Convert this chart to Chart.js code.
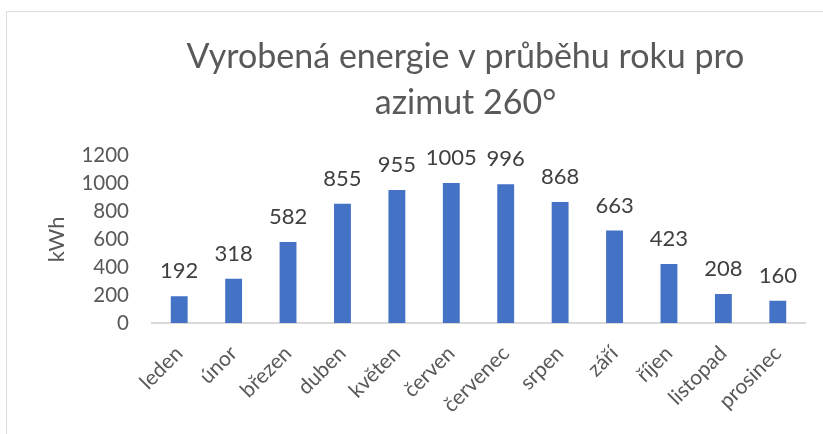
<!DOCTYPE html>
<html>
<head>
<meta charset="utf-8">
<script src="https://cdn.jsdelivr.net/npm/chart.js@4/dist/chart.umd.min.js"></script>
<style>
  html, body { margin: 0; padding: 0; background: #fff; overflow: hidden; }
  #wrap { position: relative; width: 823px; height: 434px; }
  #frame { position: absolute; left: 6px; top: 11px; width: 900px; height: 500px; border: 1.5px solid #dedede; }
  #energy { position: absolute; left: 0; top: 0; }
</style>
</head>
<body>
<div id="wrap">
  <div id="frame"></div>
  <canvas id="energy" width="823" height="434"></canvas>
</div>
<script>
  const months = ["leden", "únor", "březen", "duben", "květen", "červen",
    "červenec", "srpen", "září", "říjen", "listopad", "prosinec"];
  const energy = [192, 318, 582, 855, 955, 1005, 996, 868, 663, 423, 208, 160];
  const titleLines = ["Vyrobená energie v průběhu roku pro", "azimut 260°"];

  // popisky hodnot nad sloupci
  const valueLabels = {
    id: "valueLabels",
    afterDatasetsDraw(chart) {
      const ctx = chart.ctx;
      const meta = chart.getDatasetMeta(0);
      ctx.save();
      ctx.font = "22px Lato";
      ctx.fillStyle = "#404040";
      ctx.textAlign = "center";
      ctx.textBaseline = "alphabetic";
      meta.data.forEach(function (bar, i) {
        ctx.fillText(String(energy[i]), bar.x, bar.y - 18);
      });
      ctx.restore();
    },
  };

  // nadpis je v Excelu posunuty doprava, nad plochu grafu
  const shiftTitle = {
    id: "shiftTitle",
    afterLayout(chart) {
      const t = chart.titleBlock;
      t.left = chart.chartArea.left - 26;
      t.right = chart.chartArea.right;
    },
  };

  const ctx = document.getElementById("energy");

  new Chart(ctx, {
    type: "bar",
    data: {
      labels: months,
      datasets: [
        {
          label: "kWh",
          data: energy,
          backgroundColor: "#4472c4",
          borderWidth: 0,
          barPercentage: 0.31,
          categoryPercentage: 1,
        },
      ],
    },
    options: {
      responsive: false,
      animation: false,
      layout: {
        padding: { left: 30, right: 18, top: 0, bottom: 0 },
      },
      scales: {
        y: {
          min: 0,
          max: 1200,
          ticks: {
            stepSize: 200,
            autoSkip: false,
            color: "#595959",
            font: { family: "Lato", size: 20.5 },
            padding: 23,
            callback: function (value) {
              return String(value);
            },
          },
          grid: { display: false, drawTicks: false },
          border: { display: false },
          title: {
            display: true,
            text: "kWh",
            color: "#595959",
            font: { family: "Lato", size: 22 },
            padding: { top: 14, bottom: 0 },
          },
          afterFit(scale) {
            scale.width = 122;
          },
        },
        x: {
          ticks: {
            color: "#595959",
            font: { family: "Lato", size: 21 },
            minRotation: 45,
            maxRotation: 45,
            padding: 18,
          },
          grid: { display: false, drawTicks: false },
          border: { color: "#d9d9d9", width: 2 },
          afterFit(scale) {
            scale.height = 111;
          },
        },
      },
      plugins: {
        legend: { display: false },
        tooltip: { enabled: false },
        title: {
          display: true,
          text: titleLines,
          color: "#595959",
          font: { family: "Lato", size: 34, weight: "normal", lineHeight: 1.35 },
          padding: { top: 34, bottom: 30 },
        },
      },
    },
    plugins: [valueLabels, shiftTitle],
  });
</script>
</body>
</html>
